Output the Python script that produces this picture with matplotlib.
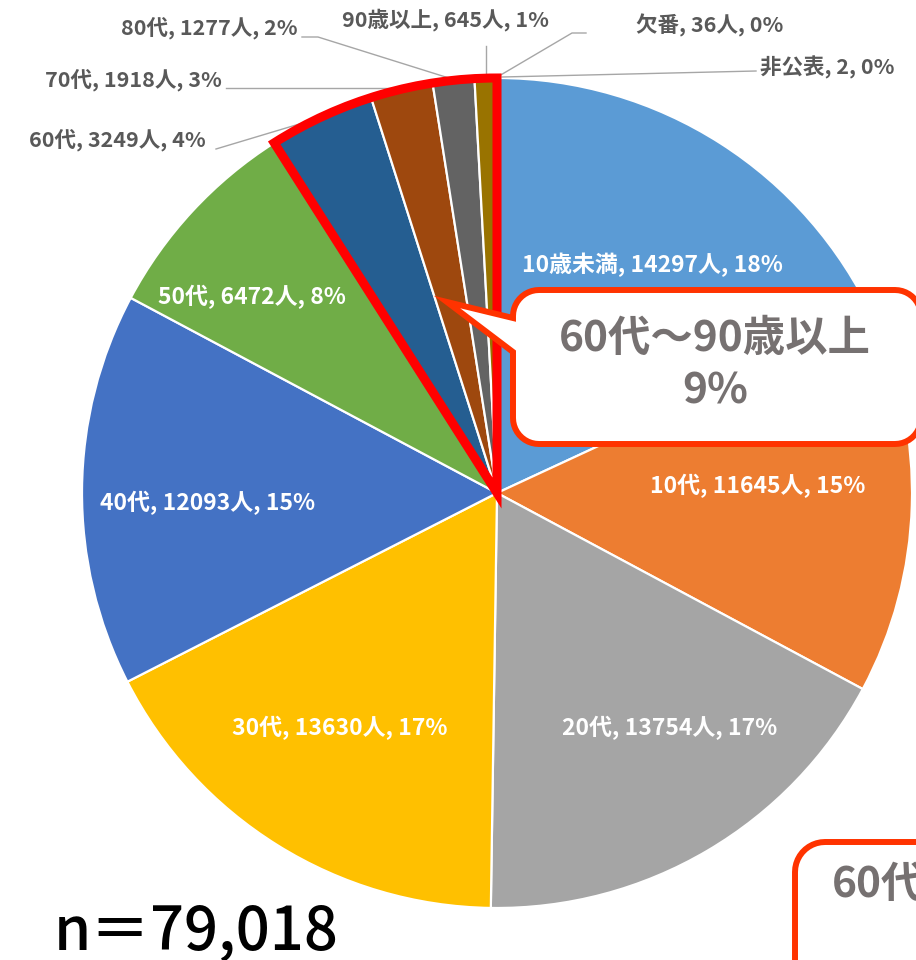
import matplotlib
matplotlib.use('Agg')
import matplotlib.pyplot as plt
import numpy as np
from matplotlib.patches import Wedge, PathPatch
from matplotlib.path import Path

plt.rcParams['font.family'] = ['Noto Sans CJK JP', 'DejaVu Sans']

# ---------------- data ----------------
categories = ['10歳未満', '10代', '20代', '30代', '40代', '50代',
              '60代', '70代', '80代', '90歳以上', '欠番', '非公表']
counts = [14297, 11645, 13754, 13630, 12093, 6472, 3249, 1918, 1277, 645, 36, 2]
units = ['人'] * 11 + ['']
percents = [18, 15, 17, 17, 15, 8, 4, 3, 2, 1, 0, 0]
highlight_first = 6          # 60代 ... end
callout_line1 = '60代～90歳以上'
callout_line2 = '9%'
callout2_text = '60代～90歳以上'
n_text = 'n＝79,018'

colors = ['#5B9BD5', '#ED7D31', '#A5A5A5', '#FFC000', '#4472C4', '#70AD47',
          '#255E91', '#9E480E', '#636363', '#997300', '#264478', '#43682B']

# ---------------- layout (pixel coords) ----------------
W, H = 916, 960
CX, CY, R = 497, 493, 415

def P(x, y):
    return (x, H - y)

inner_pos = {0: (652, 265), 1: (758, 486), 2: (670, 728), 3: (340, 728),
             4: (208, 503), 5: (252, 297)}
outer_pos = {6: (206, 140, 'right'), 7: (222, 80, 'right'), 8: (298, 28, 'right'),
             9: (446, 20, 'center'), 10: (636, 25, 'left'), 11: (760, 67, 'left')}
leaders = {6: [(216, 149), (316, 119)],
           7: [(226, 88), (400, 88)],
           8: [(302, 37), (318, 37), (452, 79)],
           9: [(486, 46), (486, 77)],
           10: [(586, 33), (572, 33), (499, 76)],
           11: [(756, 71), (502, 77)]}

fig = plt.figure(figsize=(W / 100, H / 100), dpi=100)
ax = fig.add_axes([0, 0, 1, 1])

wedges, _ = ax.pie(counts, colors=colors, startangle=90, counterclock=False,
                   center=P(CX, CY), radius=R,
                   wedgeprops=dict(edgecolor='white', linewidth=1.6))
ax.set_xlim(0, W)
ax.set_ylim(0, H)
ax.set_aspect('equal')
ax.axis('off')

total = sum(counts)
grp = sum(counts[highlight_first:])
red = Wedge(P(CX, CY), R, 90, 90 + 360 * grp / total, fill=False,
            edgecolor='#FF0000', linewidth=6.5, joinstyle='miter', zorder=5)
ax.add_patch(red)

def label(i):
    return f'{categories[i]}, {counts[i]}{units[i]}, {percents[i]}%'

for i, (x, y) in inner_pos.items():
    ax.text(*P(x, y), label(i), color='white', fontsize=16.5, fontweight='bold',
            ha='center', va='center', zorder=6)

for i, (x, y, ha) in outer_pos.items():
    ax.text(*P(x, y), label(i), color='#595959', fontsize=15.5, fontweight='bold',
            ha=ha, va='center', zorder=6)
    pts = [P(*p) for p in leaders[i]]
    ax.plot([p[0] for p in pts], [p[1] for p in pts], color='#A6A6A6',
            linewidth=1.0, zorder=4)

def rounded_callout(x0, y0, x1, y1, r, pointer=None):
    pts = []
    def arc(cx, cy, a0, a1):
        for a in np.linspace(a0, a1, 12):
            pts.append((cx + r * np.cos(np.radians(a)), cy + r * np.sin(np.radians(a))))
    arc(x0 + r, y0 + r, 180, 270)
    arc(x1 - r, y0 + r, 270, 360)
    arc(x1 - r, y1 - r, 0, 90)
    arc(x0 + r, y1 - r, 90, 180)
    if pointer is not None:
        (yb_low, tip, yb_high) = pointer
        pts.append((x0, yb_low))
        pts.append(tip)
        pts.append((x0, yb_high))
    pts.append(pts[0])
    verts = [P(*p) for p in pts]
    codes = [Path.MOVETO] + [Path.LINETO] * (len(verts) - 2) + [Path.CLOSEPOLY]
    return Path(verts, codes)

c1 = rounded_callout(513, 290, 921, 444, 26, pointer=(352, (447, 302), 318))
ax.add_patch(PathPatch(c1, facecolor='white', edgecolor='#FF3300',
                       linewidth=4.3, joinstyle='miter', zorder=7))
ax.text(*P(715, 339), callout_line1, color='#767171', fontsize=30.5,
        fontweight='bold', ha='center', va='center', zorder=8)
ax.text(*P(715, 392), callout_line2, color='#767171', fontsize=30.5,
        fontweight='bold', ha='center', va='center', zorder=8)

c2 = rounded_callout(795, 842, 1200, 1100, 30)
ax.add_patch(PathPatch(c2, facecolor='white', edgecolor='#FF3300',
                       linewidth=4.3, zorder=7, clip_on=False))
ax.text(*P(832, 885), callout2_text, color='#767171', fontsize=30.5,
        fontweight='bold', ha='left', va='center', zorder=8)

ax.text(*P(54, 950), n_text, color='black', fontsize=43, fontweight='medium',
        ha='left', va='baseline', zorder=8)

fig.savefig('out.png', dpi=100)
